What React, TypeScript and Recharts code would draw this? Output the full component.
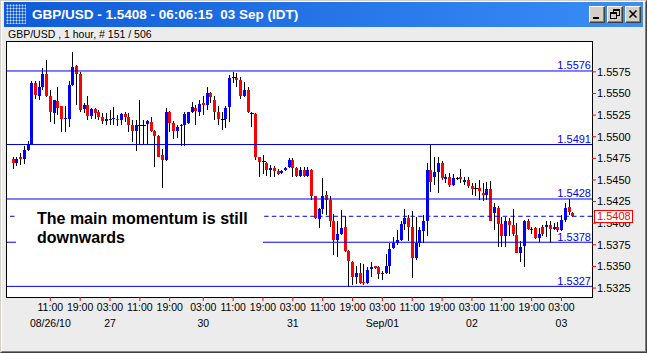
import { Bar, ComposedChart, ReferenceLine, XAxis, YAxis } from "recharts";

// GBP/USD hourly candles, 26 Aug 01:00 .. 03 Sep 06:00
const opens = [
  1.5474, 1.547, 1.5476, 1.5474, 1.5485, 1.5491, 1.5562, 1.5547, 1.5557, 1.5573,
  1.5547, 1.5527, 1.5541, 1.5535, 1.5521, 1.5521, 1.556, 1.5582, 1.5573, 1.5532,
  1.5537, 1.5524, 1.5532, 1.5528, 1.5523, 1.5518, 1.552, 1.552, 1.5521, 1.5519,
  1.5526, 1.5523, 1.5513, 1.5507, 1.5513, 1.5513, 1.5515, 1.5517, 1.5507, 1.5501,
  1.5479, 1.5473, 1.5528, 1.5516, 1.5507, 1.5512, 1.5513, 1.5516, 1.5529, 1.5533,
  1.5529, 1.5539, 1.5537, 1.555, 1.5543, 1.5528, 1.552, 1.552, 1.5534, 1.5568,
  1.5568, 1.5565, 1.5547, 1.5554, 1.5527, 1.5526, 1.5476, 1.5471, 1.547, 1.5462,
  1.5464, 1.546, 1.5458, 1.5462, 1.5465, 1.5473, 1.5464, 1.5455, 1.5462, 1.5455,
  1.5462, 1.5431, 1.5405, 1.5417, 1.5433, 1.5427, 1.5403, 1.5381, 1.5388, 1.5396,
  1.5368, 1.5355, 1.5338, 1.5343, 1.5332, 1.5331, 1.5347, 1.535, 1.5349, 1.5341,
  1.5343, 1.5351, 1.5371, 1.5377, 1.5381, 1.5399, 1.5406, 1.5396, 1.536, 1.5377,
  1.5391, 1.5403, 1.5461, 1.5453, 1.5459, 1.547, 1.5451, 1.5453, 1.5444, 1.5452,
  1.5453, 1.5448, 1.545, 1.5443, 1.544, 1.5441, 1.5435, 1.5433, 1.5439, 1.5412,
  1.5418, 1.5399, 1.5385, 1.5403, 1.5398, 1.5386, 1.5365, 1.5374, 1.5403, 1.5392,
  1.5394, 1.5383, 1.5396, 1.5396, 1.5398, 1.5393, 1.5396, 1.5392, 1.5404, 1.5419,
  1.5412,
];
const highs = [
  1.5476, 1.5476, 1.5481, 1.5489, 1.5495, 1.5564, 1.5564, 1.5564, 1.5579, 1.5589,
  1.5554, 1.5543, 1.5558, 1.5536, 1.5536, 1.5564, 1.5598, 1.5583, 1.5575, 1.5539,
  1.5547, 1.5533, 1.5533, 1.5531, 1.5527, 1.5527, 1.5531, 1.5534, 1.5525, 1.5527,
  1.5528, 1.5527, 1.5519, 1.5519, 1.5542, 1.5519, 1.5519, 1.5523, 1.5508, 1.5502,
  1.5486, 1.5533, 1.553, 1.5518, 1.5513, 1.5515, 1.5529, 1.5529, 1.554, 1.5537,
  1.5542, 1.5547, 1.5558, 1.5552, 1.5547, 1.5535, 1.5529, 1.5535, 1.5571, 1.5575,
  1.5574, 1.5569, 1.5563, 1.5558, 1.5528, 1.5527, 1.5477, 1.5479, 1.5471, 1.5467,
  1.5466, 1.5463, 1.5462, 1.5465, 1.5475, 1.5475, 1.5465, 1.5465, 1.5465, 1.5465,
  1.5463, 1.5432, 1.5418, 1.5452, 1.5437, 1.5432, 1.5411, 1.5403, 1.5415, 1.5408,
  1.5369, 1.5356, 1.535, 1.5354, 1.5353, 1.5349, 1.5355, 1.5351, 1.535, 1.5345,
  1.5364, 1.5377, 1.5384, 1.5392, 1.5403, 1.5417, 1.5409, 1.5414, 1.5407, 1.5396,
  1.5409, 1.547, 1.5491, 1.5476, 1.5476, 1.5472, 1.5457, 1.5458, 1.5457, 1.5454,
  1.5463, 1.5453, 1.5453, 1.5446, 1.5446, 1.545, 1.5446, 1.5448, 1.5449, 1.5423,
  1.542, 1.5407, 1.5407, 1.5406, 1.5416, 1.54, 1.538, 1.5404, 1.5405, 1.5396,
  1.5396, 1.5394, 1.5398, 1.5403, 1.5403, 1.54, 1.5401, 1.5409, 1.5423, 1.5428,
  1.5413,
];
const lows = [
  1.5463, 1.5466, 1.5467, 1.5468, 1.5484, 1.549, 1.5544, 1.5542, 1.5554, 1.5546,
  1.5517, 1.5515, 1.5525, 1.5506, 1.5506, 1.5511, 1.5559, 1.5537, 1.5529, 1.5527,
  1.5519, 1.5521, 1.5521, 1.5519, 1.5515, 1.5513, 1.5513, 1.5513, 1.5512, 1.5513,
  1.5517, 1.5506, 1.5494, 1.5484, 1.5492, 1.5492, 1.5492, 1.5506, 1.5465, 1.5476,
  1.5441, 1.5472, 1.5506, 1.5497, 1.5498, 1.5489, 1.5489, 1.5515, 1.5527, 1.5513,
  1.5524, 1.5525, 1.5531, 1.5539, 1.5519, 1.5513, 1.5508, 1.551, 1.5517, 1.5562,
  1.5558, 1.5544, 1.5546, 1.5527, 1.5511, 1.5473, 1.5454, 1.5457, 1.5455, 1.5454,
  1.5454, 1.5456, 1.5457, 1.546, 1.5464, 1.5453, 1.5453, 1.5454, 1.5454, 1.5453,
  1.5427, 1.5405, 1.5395, 1.5411, 1.5409, 1.5396, 1.5363, 1.5361, 1.5386, 1.5367,
  1.5326, 1.5328, 1.533, 1.533, 1.5329, 1.533, 1.5338, 1.5347, 1.5336, 1.5334,
  1.5341, 1.5341, 1.537, 1.5375, 1.5379, 1.5392, 1.5379, 1.5337, 1.5358, 1.5372,
  1.5377, 1.5385, 1.5436, 1.5444, 1.5435, 1.545, 1.5446, 1.5442, 1.5443, 1.545,
  1.5446, 1.5444, 1.5441, 1.5433, 1.5432, 1.5427, 1.5426, 1.5427, 1.5402, 1.5392,
  1.5372, 1.5372, 1.5372, 1.5385, 1.5385, 1.5365, 1.5355, 1.5349, 1.5392, 1.5388,
  1.5382, 1.5378, 1.5385, 1.5384, 1.5377, 1.5392, 1.539, 1.5391, 1.5401, 1.5409,
  1.5407,
];
const closes = [
  1.547, 1.5474, 1.5474, 1.5485, 1.5491, 1.5562, 1.5548, 1.5557, 1.5573, 1.5547,
  1.5528, 1.5542, 1.5533, 1.5521, 1.5522, 1.556, 1.5581, 1.5573, 1.5531, 1.5537,
  1.5524, 1.5532, 1.5527, 1.5523, 1.5518, 1.552, 1.5521, 1.5522, 1.5519, 1.5526,
  1.5523, 1.5513, 1.5507, 1.5513, 1.5513, 1.5513, 1.5518, 1.5507, 1.5501, 1.5477,
  1.5473, 1.5529, 1.5516, 1.5507, 1.5511, 1.5513, 1.5526, 1.5528, 1.5534, 1.553,
  1.5538, 1.5537, 1.555, 1.5546, 1.5528, 1.552, 1.552, 1.5533, 1.5568, 1.5568,
  1.5565, 1.5547, 1.5554, 1.5528, 1.5527, 1.5476, 1.5471, 1.5471, 1.5462, 1.5464,
  1.546, 1.5457, 1.546, 1.5464, 1.5473, 1.5464, 1.5455, 1.5462, 1.5455, 1.5462,
  1.5431, 1.5406, 1.5417, 1.5432, 1.5427, 1.5403, 1.5381, 1.5388, 1.5394, 1.5368,
  1.5356, 1.5338, 1.5343, 1.5331, 1.5331, 1.5346, 1.5349, 1.5348, 1.5341, 1.5343,
  1.5351, 1.537, 1.5377, 1.5381, 1.5399, 1.5406, 1.5396, 1.536, 1.5377, 1.5392,
  1.5403, 1.5461, 1.5448, 1.5459, 1.547, 1.5452, 1.5453, 1.5444, 1.5452, 1.5452,
  1.5451, 1.545, 1.5443, 1.5439, 1.544, 1.5437, 1.5433, 1.5439, 1.5403, 1.5419,
  1.5399, 1.5385, 1.5403, 1.5398, 1.5388, 1.5365, 1.5373, 1.5403, 1.5393, 1.5393,
  1.5383, 1.5387, 1.5388, 1.5398, 1.5393, 1.5396, 1.5392, 1.5404, 1.5418, 1.5413,
  1.5408,
];

// bar index of each time label (8 hours apart, one extra bar across the weekend)
const tickIndex = [10, 18, 26, 34, 42, 51, 59, 67, 75, 83, 91, 99, 107, 115, 123, 131, 139, 147];
const tickTimes = [
  "11:00", "19:00", "03:00", "11:00", "19:00", "03:00", "11:00", "19:00", "03:00",
  "11:00", "19:00", "03:00", "11:00", "19:00", "03:00", "11:00", "19:00", "03:00",
];
const tickDates = ["08/26/10", "", "27", "", "", "30", "", "", "31", "", "", "Sep/01", "", "", "02", "", "", "03"];

const priceTicks = [1.5325, 1.535, 1.5375, 1.54, 1.5425, 1.545, 1.5475, 1.55, 1.5525, 1.555, 1.5575];
const levels = [1.5576, 1.5491, 1.5428, 1.5378, 1.5327];

const FONT = '"Liberation Sans", Arial, sans-serif';
const BLUE = "#0000f0";
const last = closes[closes.length - 1];

// plot geometry (page pixels)
const PLOT_TOP = 42;
const PLOT_H = 255;
const PLOT_RIGHT = 592;
const Y_DOMAIN = [1.53147, 1.56095];
const lastY = PLOT_TOP + ((Y_DOMAIN[1] - last) / (Y_DOMAIN[1] - Y_DOMAIN[0])) * PLOT_H;

const data = opens.map((o, i) => ({
  i,
  open: o,
  high: highs[i],
  low: lows[i],
  close: closes[i],
  range: [lows[i], highs[i]],
}));

function Candle(props: any) {
  const { x, y, width, height, payload } = props;
  if (x == null || !payload) return null;
  const { open, close, high, low } = payload;
  const top = Math.min(y, y + height);
  const h = Math.abs(height);
  const k = high === low ? 0 : h / (high - low);
  const yOf = (v: number) => top + (high - v) * k;
  const cx = Math.round(x + width / 2) + 0.5;
  const bTop = yOf(Math.max(open, close));
  const bBot = yOf(Math.min(open, close));
  const color = close > open ? "#0000ff" : "#ff0000";
  return (
    <g shapeRendering="crispEdges">
      <line x1={cx} x2={cx} y1={top} y2={top + h} stroke="#000" />
      {open === close ? (
        <line x1={cx - 2} x2={cx + 2} y1={bTop} y2={bTop} stroke="#000" />
      ) : (
        <rect x={cx - 1.5} y={bTop} width={3} height={Math.max(1, bBot - bTop)} fill={color} />
      )}
    </g>
  );
}

function TimeTick(props: any) {
  const { x, y, payload } = props;
  const k = tickIndex.indexOf(payload.value);
  return (
    <g fontSize={10.5} fill="#000" textAnchor="middle">
      <text x={x} y={y + 8}>{tickTimes[k]}</text>
      <text x={x} y={y + 24}>{tickDates[k]}</text>
    </g>
  );
}

function LevelLabel(props: any) {
  const vb = props.viewBox;
  if (!vb) return null;
  return (
    <text x={vb.x + vb.width - 1} y={vb.y - 1.5} textAnchor="end" fill={BLUE} fontSize={11}>
      {props.text}
    </text>
  );
}

function WinButton({ left, children }: { left: number; children: any }) {
  return (
    <div
      style={{
        position: "absolute",
        left,
        top: 4,
        width: 16,
        height: 17,
        boxSizing: "border-box",
        background: "#d4d0c8",
        borderStyle: "solid",
        borderWidth: 1,
        borderColor: "#fff #404040 #404040 #fff",
        boxShadow: "inset -1px -1px 0 #808080",
      }}
    >
      <svg width={14} height={15} style={{ position: "absolute", left: 0, top: 0 }}>
        {children}
      </svg>
    </div>
  );
}

export default function App() {
  return (
    <div
      style={{
        position: "absolute",
        left: 0,
        top: 0,
        width: 647,
        height: 353,
        overflow: "hidden",
        fontFamily: FONT,
        background: "#ececec",
        boxSizing: "border-box",
        borderStyle: "solid",
        borderWidth: 1,
        borderColor: "#d4d0c8 #404040 #404040 #d4d0c8",
      }}
    >
      <div
        style={{
          position: "absolute",
          inset: 0,
          borderStyle: "solid",
          borderWidth: 1,
          borderColor: "#fff #808080 #808080 #fff",
        }}
      />
      {/* title bar */}
      <div
        style={{
          position: "absolute",
          left: 3,
          top: 1,
          width: 639,
          height: 25,
          background: "linear-gradient(to right, #0f5bd8, #3a8ef6)",
        }}
      >
        <div
          style={{
            position: "absolute",
            left: 2,
            top: 2,
            width: 20,
            height: 20,
            backgroundImage: "radial-gradient(circle, #d8dde8 0.9px, transparent 1.1px)",
            backgroundSize: "3px 3px",
          }}
        />
        <div
          style={{
            position: "absolute",
            left: 28,
            top: 0,
            lineHeight: "25px",
            color: "#fff",
            fontWeight: "bold",
            fontSize: 13.5,
            whiteSpace: "pre",
          }}
        >
          {`GBP/USD - ${last.toFixed(4)} - 06:06:15  03 Sep (IDT)`}
        </div>
        <WinButton left={585}>
          <rect x={3} y={10} width={6} height={2} fill="#000" />
        </WinButton>
        <WinButton left={603}>
          <rect x={5.5} y={2.5} width={6} height={6} fill="none" stroke="#000" />
          <rect x={5} y={2} width={7} height={2} fill="#000" />
          <rect x={2.5} y={5.5} width={6} height={6} fill="#d4d0c8" stroke="#000" />
          <rect x={2} y={5} width={7} height={2} fill="#000" />
        </WinButton>
        <WinButton left={621}>
          <path d="M3.5 3.5 L10.5 10.5 M10.5 3.5 L3.5 10.5" stroke="#000" strokeWidth={1.6} />
        </WinButton>
      </div>
      <div style={{ position: "absolute", left: 7, top: 27, fontSize: 10.5, lineHeight: "12px", color: "#000" }}>
        GBP/USD , 1 hour, # 151 / 506
      </div>
      {/* plot frame */}
      <div
        style={{
          position: "absolute",
          left: 5,
          top: 40,
          width: 587,
          height: 257,
          boxSizing: "border-box",
          border: "1px solid #000",
          background: "#fff",
        }}
      />
      <div style={{ position: "absolute", left: -1, top: -1 }}>
        <ComposedChart width={647} height={353} data={data} margin={{ top: PLOT_TOP, right: 5, bottom: 16, left: 7 }}>
          <XAxis
            dataKey="i"
            type="number"
            domain={[-1.61, 155.19]}
            allowDataOverflow
            ticks={tickIndex}
            interval={0}
            height={40}
            tickSize={4}
            tickLine={{ stroke: "#ff0000" }}
            axisLine={false}
            tick={<TimeTick />}
          />
          <YAxis
            orientation="right"
            type="number"
            domain={Y_DOMAIN}
            allowDataOverflow
            ticks={priceTicks}
            interval={0}
            width={50}
            tickSize={4}
            tickMargin={1}
            tickLine={{ stroke: "#ff0000" }}
            axisLine={false}
            tick={{ fill: "#000", fontSize: 11 }}
            tickFormatter={(v: number) => v.toFixed(4)}
          />
          <Bar dataKey="range" barSize={3} isAnimationActive={false} shape={(p: any) => <Candle {...p} />} />
          {levels.map((v) => (
            <ReferenceLine key={v} y={v} stroke={BLUE} label={<LevelLabel text={v.toFixed(4)} />} />
          ))}
          <ReferenceLine y={last} stroke={BLUE} strokeDasharray="4.5 3.2" />
        </ComposedChart>
      </div>
      {/* current price tag on the price axis */}
      <div
        style={{
          position: "absolute",
          left: PLOT_RIGHT + 1,
          top: Math.round(lastY) - 7,
          width: 39,
          height: 13,
          boxSizing: "border-box",
          border: "1px solid #ff0000",
          background: "#fff",
          color: "#ff0000",
          fontSize: 11,
          lineHeight: "11px",
          paddingLeft: 2,
        }}
      >
        {last.toFixed(4)}
      </div>
      {/* annotation box */}
      <div
        style={{
          position: "absolute",
          left: 15,
          top: 203,
          width: 247,
          height: 56,
          boxSizing: "border-box",
          background: "#fff",
          padding: "6px 0 0 21px",
          fontSize: 16,
          fontWeight: "bold",
          lineHeight: "18.5px",
          color: "#000",
        }}
      >
        The main momentum is still
        <br />
        downwards
      </div>
    </div>
  );
}
